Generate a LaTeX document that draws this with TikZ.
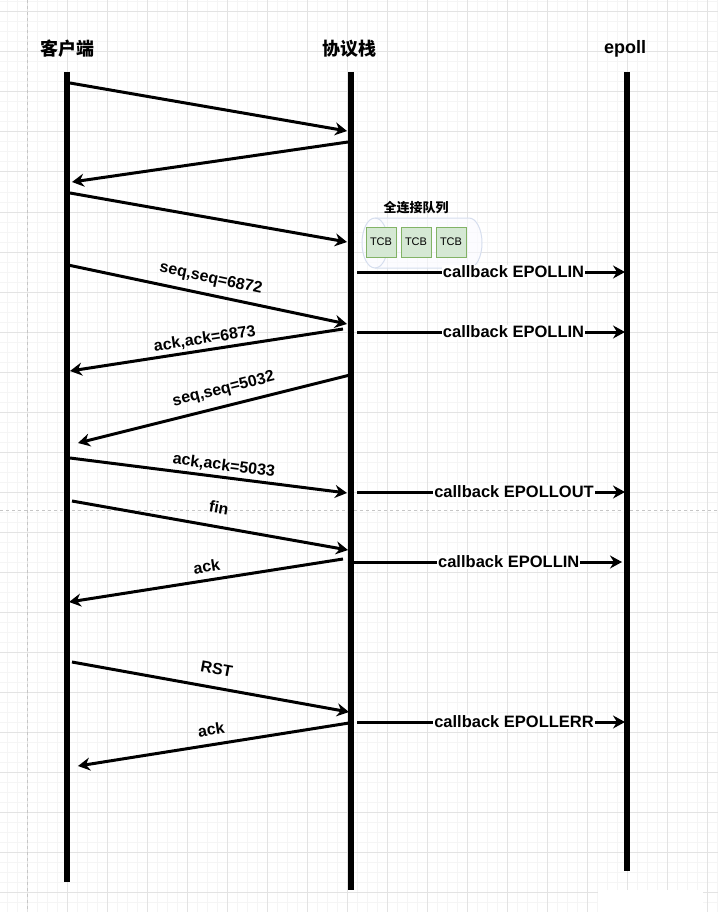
\documentclass[tikz,border=0pt]{standalone}
\usepackage{fontspec}
\setmainfont{Liberation Sans}
\newfontfamily\cjk{Noto Sans CJK SC}
\usetikzlibrary{arrows.meta}

\definecolor{gridminor}{HTML}{F5F5F5}
\definecolor{gridmajor}{HTML}{E3E3E3}
\definecolor{tcbfill}{HTML}{D5E8D4}
\definecolor{tcbline}{HTML}{82B366}
\definecolor{queueline}{HTML}{D6DEEE}

\def\msgwidth{3pt}
\tikzstyle{head} = [font=\bfseries\fontsize{18}{20}\selectfont,
inner sep=0pt]
\tikzstyle{lifeline} = [line width=6pt]
\tikzstyle{msg} = [line width=\msgwidth,
-{Stealth[length=12pt,width=13pt,inset=4pt]}]
\tikzstyle{lbl} = [font=\bfseries\fontsize{16}{18}\selectfont,
sloped,
inner sep=0pt,
text height=12pt,
text depth=3pt]
\tikzstyle{cblbl} = [font=\bfseries\fontsize{16.5}{18}\selectfont,
fill=white,
inner sep=1pt]
\tikzstyle{tcb} = [rectangle,
minimum width=30pt,
minimum height=30pt,
inner sep=0pt,
text centered,
draw=tcbline,
fill=tcbfill,
font=\fontsize{11}{12}\selectfont]

\begin{document}
\begin{tikzpicture}[x=1pt, y=-1pt]
    \useasboundingbox (0,0) rectangle (718,912);
    %%%%%%%%%%%%%%%%%%%%%%%%%%%%%%%%%%%%%%%%
    % Background grid
    %%%%%%%%%%%%%%%%%%%%%%%%%%%%%%%%%%%%%%%%
    \fill[white] (0,0) rectangle (718,912);
    \foreach \x in {7,17,...,717} \draw[gridminor, line width=1pt] (\x,0) -- (\x,912);
    \foreach \y in {2,12,...,912} \draw[gridminor, line width=1pt] (0,\y) -- (718,\y);
    \foreach \x in {27,67,...,707} \draw[gridmajor, line width=1pt] (\x,0) -- (\x,912);
    \foreach \y in {12,52,...,892} \draw[gridmajor, line width=1pt] (0,\y) -- (718,\y);
    \draw[gray!45, dashed, line width=1pt] (27,0) -- (27,912);
    \draw[gray!45, dashed, line width=1pt] (0,510) -- (718,510);
    \fill[white] (598,890) rectangle (703,912);
    %%%%%%%%%%%%%%%%%%%%%%%%%%%%%%%%%%%%%%%%
    % Lifelines
    %%%%%%%%%%%%%%%%%%%%%%%%%%%%%%%%%%%%%%%%
    \node (cli) [head] at (67,49) {\cjk 客户端};
    \node (stack) [head] at (349,49) {\cjk 协议栈};
    \node (epoll) [head] at (625,49) {epoll};
    \coordinate (clitop) at (67,72);
    \coordinate (clibot) at (67,882);
    \coordinate (stacktop) at (351,72);
    \coordinate (stackbot) at (351,890);
    \coordinate (epolltop) at (627,72);
    \coordinate (epollbot) at (627,871);
    \draw[lifeline] (clitop) -- (clibot);
    \draw[lifeline] (stacktop) -- (stackbot);
    \draw[lifeline] (epolltop) -- (epollbot);
    %%%%%%%%%%%%%%%%%%%%%%%%%%%%%%%%%%%%%%%%
    % Accept queue
    %%%%%%%%%%%%%%%%%%%%%%%%%%%%%%%%%%%%%%%%
    \node (qlabel) [font=\bfseries\fontsize{13}{14}\selectfont] at (416,208) {\cjk 全连接队列};
    \draw[queueline, fill=blue!2, fill opacity=0.6, line width=1pt] (375,218) -- (469,218)
        arc[start angle=-90, end angle=90, x radius=13, y radius=25] -- (375,268)
        arc[start angle=90, end angle=270, x radius=13, y radius=25] -- cycle;
    \draw[queueline, line width=1pt] (375,218) arc[start angle=-90, end angle=90, x radius=13, y radius=25];
    \node (tcb1) [tcb] at (381,242) {TCB};
    \node (tcb2) [tcb] at (416,242) {TCB};
    \node (tcb3) [tcb] at (451,242) {TCB};
    %%%%%%%%%%%%%%%%%%%%%%%%%%%%%%%%%%%%%%%%
    % Messages
    %%%%%%%%%%%%%%%%%%%%%%%%%%%%%%%%%%%%%%%%
    \coordinate (m1a) at (70,83);
    \coordinate (m1b) at (347,131);
    \coordinate (m2a) at (348,142);
    \coordinate (m2b) at (72,182);
    \coordinate (m3a) at (70,193);
    \coordinate (m3b) at (347,242);
    \coordinate (m4a) at (68,265);
    \coordinate (m4b) at (347,324);
    \coordinate (m5a) at (343,329);
    \coordinate (m5b) at (70,371);
    \coordinate (m6a) at (350,375);
    \coordinate (m6b) at (78,443);
    \coordinate (m7a) at (70,458);
    \coordinate (m7b) at (347,493);
    \coordinate (m8a) at (72,501);
    \coordinate (m8b) at (348,550);
    \coordinate (m9a) at (343,559);
    \coordinate (m9b) at (69,602);
    \coordinate (m10a) at (72,662);
    \coordinate (m10b) at (349,712);
    \coordinate (m11a) at (349,723);
    \coordinate (m11b) at (78,766);
    \draw[msg] (m1a) -- (m1b);
    \draw[msg] (m2a) -- (m2b);
    \draw[msg] (m3a) -- (m3b);
    \draw[msg] (m4a) -- node[lbl, pos=0.5, above=7.5pt] {seq,seq=6872} (m4b);
    \draw[msg] (m5a) -- node[lbl, pos=0.5, above=2pt] {ack,ack=6873} (m5b);
    \draw[msg] (m6a) -- node[lbl, pos=0.45, above=8pt] {seq,seq=5032} (m6b);
    \draw[msg] (m7a) -- node[lbl, pos=0.55, above=2.5pt] {ack,ack=5033} (m7b);
    \draw[msg] (m8a) -- node[lbl, pos=0.52, above=9pt] {fin} (m8b);
    \draw[msg] (m9a) -- node[lbl, pos=0.49, above=3.5pt] {ack} (m9b);
    \draw[msg] (m10a) -- node[lbl, pos=0.51, above=9pt] {RST} (m10b);
    \draw[msg] (m11a) -- node[lbl, pos=0.5, above=5pt] {ack} (m11b);
    %%%%%%%%%%%%%%%%%%%%%%%%%%%%%%%%%%%%%%%%
    % Callbacks
    %%%%%%%%%%%%%%%%%%%%%%%%%%%%%%%%%%%%%%%%
    \coordinate (cb1a) at (357,272);
    \coordinate (cb1b) at (625,272);
    \coordinate (cb2a) at (357,332);
    \coordinate (cb2b) at (625,332);
    \coordinate (cb3a) at (357,492);
    \coordinate (cb3b) at (625,492);
    \coordinate (cb4a) at (353,562);
    \coordinate (cb4b) at (622,562);
    \coordinate (cb5a) at (357,722);
    \coordinate (cb5b) at (625,722);
    \draw[msg] (cb1a) -- node[cblbl, pos=0.584] {callback EPOLLIN} (cb1b);
    \draw[msg] (cb2a) -- node[cblbl, pos=0.584] {callback EPOLLIN} (cb2b);
    \draw[msg] (cb3a) -- node[cblbl, pos=0.586] {callback EPOLLOUT} (cb3b);
    \draw[msg] (cb4a) -- node[cblbl, pos=0.579] {callback EPOLLIN} (cb4b);
    \draw[msg] (cb5a) -- node[cblbl, pos=0.586] {callback EPOLLERR} (cb5b);
\end{tikzpicture}
\end{document}
